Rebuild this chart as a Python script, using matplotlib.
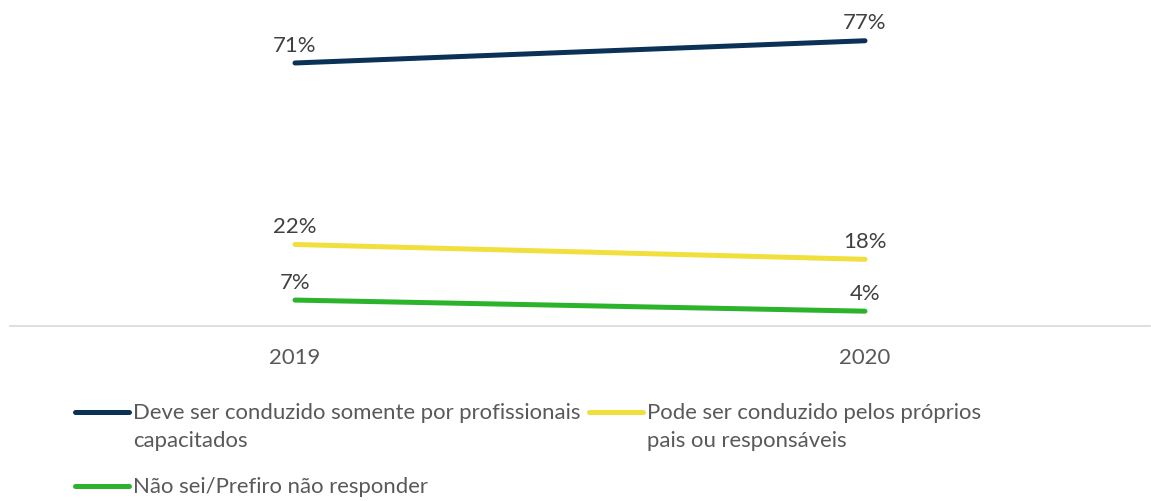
import numpy as np
import matplotlib
matplotlib.use("Agg")
import matplotlib.pyplot as plt
from matplotlib.lines import Line2D

years = ["2019", "2020"]
series_names = [
    "Deve ser conduzido somente por profissionais\ncapacitados",
    "Pode ser conduzido pelos próprios\npais ou responsáveis",
    "Não sei/Prefiro não responder",
]
profissionais = [71, 77]
pais = [22, 18]
nao_sei = [7, 4]

colors = ["#0b3157", "#f0df3c", "#2bb32b"]
text_color = "#595959"

plt.rcParams["font.family"] = ["Lato", "DejaVu Sans"]
fs = 15.9
W, H = 1151, 501

fig = plt.figure(figsize=(W / 100, H / 100), dpi=100)
ax = fig.add_axes([10 / W, 1 - 326 / H, 1140 / W, 326 / H])

x = np.arange(len(years))
for vals, c in zip([profissionais, pais, nao_sei], colors):
    ax.plot(x, vals, color=c, lw=3.6, solid_capstyle="round")
    for xi, v in zip(x, vals):
        ax.annotate(f"{v}%", (xi, v), xytext=(0, 12.5), textcoords="offset points",
                    ha="center", va="center", fontsize=fs, color="#404040")

ax.set_xlim(-0.5, 1.5)
ax.set_ylim(0, 88)
ax.set_xticks(x)
ax.set_xticklabels(years, fontsize=fs, color=text_color)
ax.tick_params(axis="x", length=0, pad=16)
ax.set_yticks([])
for s in ["top", "right", "left"]:
    ax.spines[s].set_visible(False)
ax.spines["bottom"].set_color("#d9d9d9")
ax.spines["bottom"].set_linewidth(1.2)
ax.patch.set_alpha(0)

# legend drawn by hand (handle sits level with the first text line)
# (handle x0, handle x1, first-line y) in pixels from the top-left
legend_pos = [(75, 129, 412), (589, 643, 412), (75, 129, 486)]
line_step = 28
for name, c, (x0, x1, y) in zip(series_names, colors, legend_pos):
    fig.add_artist(Line2D([x0 / W, x1 / W], [1 - y / H, 1 - y / H], color=c, lw=3.6,
                          solid_capstyle="round", transform=fig.transFigure))
    for i, part in enumerate(name.split("\n")):
        fig.text((x1 + 4) / W, 1 - (y + 7 + i * line_step) / H, part, ha="left",
                 va="baseline", fontsize=fs, color=text_color)

fig.savefig("out.png", dpi=100)
